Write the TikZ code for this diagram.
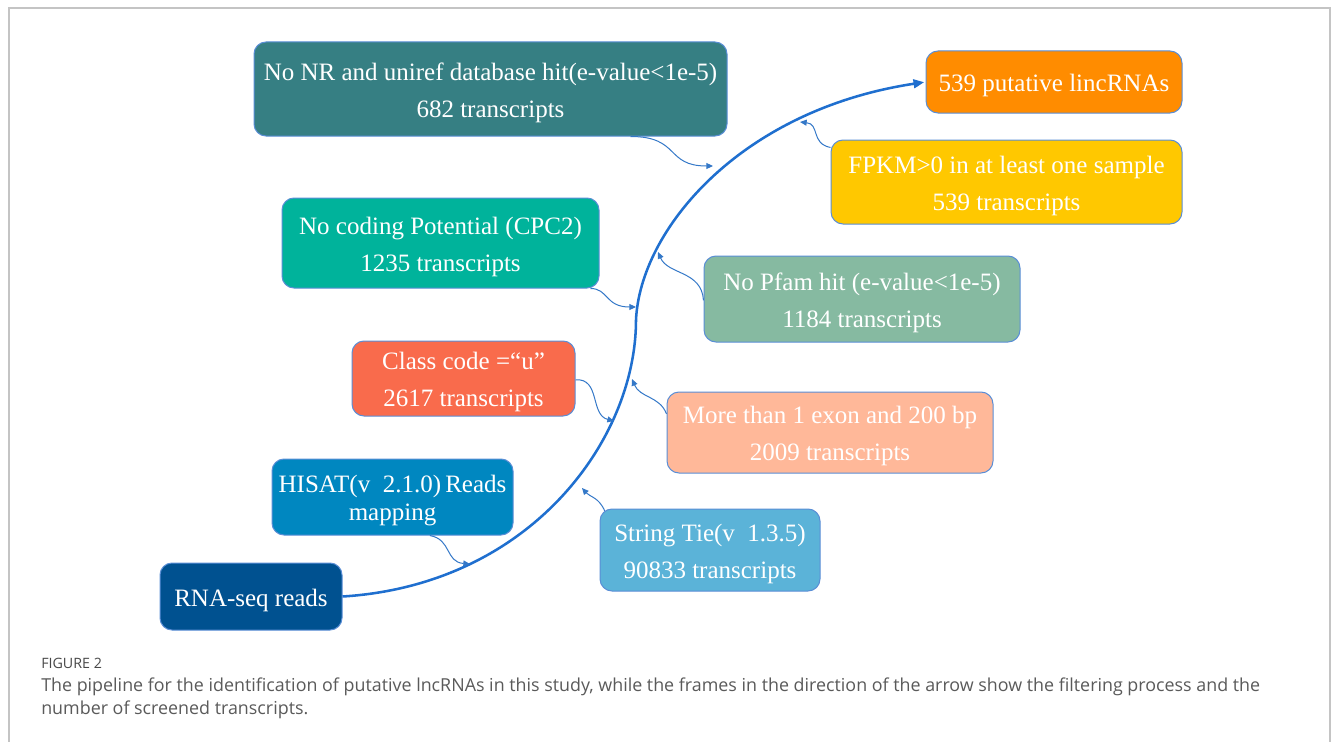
\documentclass[tikz,border=0pt]{standalone}
\usepackage{fontspec}
\setmainfont{Liberation Serif}
\newfontfamily\capfont{Open Sans}
\usetikzlibrary{arrows.meta}
\newcommand{\up}{\rule{0pt}{18.3pt}}
\definecolor{cA}{HTML}{367F83}
\definecolor{cB}{HTML}{FF8C00}
\definecolor{cC}{HTML}{FFC800}
\definecolor{cD}{HTML}{00B39B}
\definecolor{cE}{HTML}{86BAA1}
\definecolor{cF}{HTML}{F96B4C}
\definecolor{cG}{HTML}{FFB899}
\definecolor{cH}{HTML}{0087C0}
\definecolor{cI}{HTML}{5BB3D8}
\definecolor{cJ}{HTML}{005190}
\definecolor{bordc}{HTML}{5A8ED6}
\definecolor{arrc}{HTML}{1F6FCF}
\definecolor{connc}{HTML}{3478C8}
\definecolor{framec}{HTML}{C4C4C4}
\definecolor{capc}{HTML}{5A5A5A}
\definecolor{figc}{HTML}{484848}
\begin{document}
\begin{tikzpicture}[x=0.75pt,y=-0.75pt,
  box/.style={draw=bordc, line width=0.75pt, rounded corners=9pt, text=white,
    align=center, inner sep=0pt, font=\fontsize{18.75}{27.75}\selectfont},
  mainarr/.style={draw=arrc, line width=1.9pt, -{Triangle[length=8pt,width=6.5pt]}},
  conn/.style={draw=connc, line width=0.75pt, -{Triangle[length=5pt,width=4.5pt]}},
  captext/.style={anchor=base west, inner sep=0pt, text=capc,
    font=\capfont\fontsize{13.4}{16}\selectfont}]
\useasboundingbox (0,0) rectangle (1335,742);
\fill[white] (0,0) rectangle (1335,742);
\draw[framec, line width=1.1pt] (9,745) -- (9,8) -- (1330,8) -- (1330,745);

% boxes
\node[box, fill=cA, minimum width=354.75pt, minimum height=70.5pt] (A) at (490.5,89)
  {\up No NR and uniref database hit(e-value<1e-5)\\682 transcripts};
\node[box, fill=cB, minimum width=192pt, minimum height=46.5pt] (B) at (1054,82)
  {\up 539 putative lincRNAs};
\node[box, fill=cC, minimum width=263.25pt, minimum height=63pt] (C) at (1006.5,182)
  {\up FPKM>0 in at least one sample\\539 transcripts};
\node[box, fill=cD, minimum width=237.75pt, minimum height=67.5pt] (D) at (440.5,243)
  {\up No coding Potential (CPC2)\\1235 transcripts};
\node[box, fill=cE, minimum width=237pt, minimum height=64.5pt] (E) at (862,299)
  {\up No Pfam hit (e-value<1e-5)\\1184 transcripts};
\node[box, fill=cF, minimum width=167.25pt, minimum height=56.25pt] (F) at (463.5,378.5)
  {\up Class code =“u”\\2617 transcripts};
\node[box, fill=cG, minimum width=244.5pt, minimum height=60.75pt] (G) at (830,432.5)
  {\up More than 1 exon and 200 bp\\2009 transcripts};
\node[box, fill=cH, minimum width=180.75pt, minimum height=57pt,
  font=\fontsize{18.75}{20.5}\selectfont] (H) at (392.5,497)
  {\up HISAT(v\ \ 2.1.0)\,Reads\\mapping};
\node[box, fill=cI, minimum width=165pt, minimum height=61.5pt] (I) at (710,550)
  {\up String Tie(v\ \ 1.3.5)\\90833 transcripts};
\node[box, fill=cJ, minimum width=136.5pt, minimum height=50.25pt] (J) at (251,596.5)
  {\up RNA-seq reads};

% main pipeline arrow
\coordinate (mid) at (636,320);
\draw[mainarr, shorten >=1pt] (J.east) .. controls (530,585) and (636,440) .. (mid)
  .. controls (640,230) and (740,110) .. (B.west);

% connector end points on the main arrow
\coordinate (tA) at (713,166);
\coordinate (tC) at (800,122);
\coordinate (tD) at (636,307);
\coordinate (tE) at (658,252);
\coordinate (tF) at (614,421);
\coordinate (tG) at (632,379);
\coordinate (tH) at (470,564);
\coordinate (tI) at (582,488);

\draw[conn] ([xshift=-72.75pt]A.south east) .. controls +(50,0) and +(-48,0) .. (tA);
\draw[conn] ([yshift=-6pt]C.north west) .. controls +(-20,-4) and +(20,2) .. (tC);
\draw[conn] ([xshift=-6.75pt]D.south east) .. controls +(18,0) and +(-31,0) .. (tD);
\draw[conn] ([yshift=-1pt]E.west) .. controls +(-2,-30) and +(10,23) .. (tE);
\draw[conn] ([yshift=-1pt]F.east) .. controls +(25,-2) and +(-24,-6) .. (tF);
\draw[conn] ([yshift=14pt]G.west) .. controls +(-7,-18) and +(8,19) .. (tG);
\draw[conn] ([xshift=28pt]H.south) .. controls +(22,4) and +(-25,-2) .. (tH);
\draw[conn] ([xshift=4pt,yshift=-2pt]I.north west) .. controls +(-6,-14) and +(8,9) .. (tI);

% caption
\node[captext, text=figc, font=\capfont\fontsize{10.7}{12}\selectfont] (fig) at (41,668) {FIGURE 2};
\node[captext] (cap1) at (41,691) {The pipeline for the identification of putative lncRNAs in this study, while the frames in the direction of the arrow show the filtering process and the};
\node[captext] (cap2) at (41,714) {number of screened transcripts.};
\end{tikzpicture}
\end{document}
